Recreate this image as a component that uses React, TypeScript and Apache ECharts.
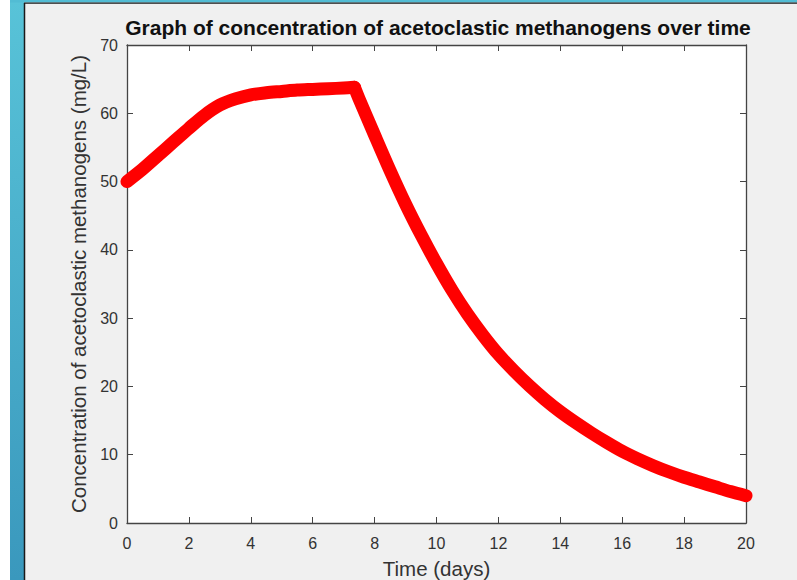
import React, { useEffect, useRef } from "react";
import * as echarts from "echarts";

const timeDays = [
  0, 0.5, 1, 1.5, 2, 2.5, 3, 3.5, 4, 4.5, 5, 5.5, 6, 6.5, 7, 7.35, 7.5, 8, 8.5, 9, 9.5,
  10, 10.5, 11, 11.5, 12, 12.5, 13, 13.5, 14, 14.5, 15, 15.5, 16, 16.5, 17, 17.5, 18,
  18.5, 19, 19.5, 20,
];
const concentration = [
  50.0, 51.8, 53.8, 55.8, 57.8, 59.7, 61.2, 62.1, 62.7, 63.0, 63.2, 63.4, 63.5, 63.6,
  63.7, 63.8, 62.1, 56.8, 51.6, 46.7, 42.2, 38.0, 34.1, 30.6, 27.5, 24.7, 22.3, 20.1,
  18.1, 16.3, 14.7, 13.2, 11.8, 10.5, 9.4, 8.4, 7.5, 6.7, 6.0, 5.3, 4.6, 4.0,
];
// time at which growth stops and decay begins (peak of the curve)
const peakTime = 7.35;

const titleText = "Graph of concentration of acetoclastic methanogens over time";
const xName = "Time (days)";
const yName = "Concentration of acetoclastic methanogens (mg/L)";

const FONT = "'Liberation Sans', Arial, Helvetica, sans-serif";
const AXIS_COLOR = "#444";
const TEXT_COLOR = "#333";

export default function App() {
  const ref = useRef<HTMLDivElement>(null);

  useEffect(() => {
    if (!ref.current) return;
    const chart = echarts.init(ref.current, undefined, { renderer: "svg" });
    const data = timeDays.map((t, i) => [t, concentration[i]]);
    const growth = data.filter((d) => d[0] <= peakTime);
    const decay = data.filter((d) => d[0] >= peakTime);

    const axisCommon = {
      axisLine: { show: true, onZero: false, lineStyle: { color: AXIS_COLOR, width: 1.3 } },
      axisTick: { show: true, inside: true, length: 6, lineStyle: { color: AXIS_COLOR, width: 1 } },
      splitLine: { show: false },
    };

    const lineSeries = (d: number[][]) => ({
      type: "line",
      xAxisIndex: 0,
      yAxisIndex: 0,
      data: d,
      showSymbol: false,
      symbol: "none",
      clip: false,
      smooth: 0.3,
      silent: true,
      lineStyle: { color: "#ff0000", width: 13, cap: "round", join: "round" },
      emphasis: { disabled: true },
    });

    chart.setOption({
      animation: false,
      backgroundColor: "#f0f0f0",
      textStyle: { fontFamily: FONT },
      grid: {
        left: 127,
        right: 51,
        top: 45,
        bottom: 57,
        containLabel: false,
        outerBoundsMode: "none",
        show: true,
        backgroundColor: "#ffffff",
        borderWidth: 0,
      },
      graphic: [
        { type: "rect", shape: { x: 0, y: 0, width: 10, height: 580 }, style: { fill: "#ffffff" }, silent: true },
        {
          type: "rect",
          shape: { x: 10, y: 0, width: 14, height: 580 },
          style: {
            fill: new echarts.graphic.LinearGradient(0, 0, 0, 1, [
              { offset: 0, color: "#58c3d8" },
              { offset: 1, color: "#3a98bd" },
            ]),
          },
          silent: true,
        },
        { type: "rect", shape: { x: 10, y: 0, width: 787, height: 2.5 }, style: { fill: "#52bcd4" }, silent: true },
        { type: "line", shape: { x1: 24.5, y1: 3, x2: 24.5, y2: 580 }, style: { stroke: "#1a1a1a", lineWidth: 1.5 }, silent: true },
        { type: "line", shape: { x1: 24, y1: 3.2, x2: 797, y2: 3.2 }, style: { stroke: "#1a1a1a", lineWidth: 1.3 }, silent: true },
        {
          type: "text",
          x: 438,
          y: 27,
          style: {
            text: titleText,
            fontFamily: FONT,
            fontSize: 21,
            fontWeight: "bold",
            fill: "#111",
            align: "center",
            verticalAlign: "middle",
          },
          silent: true,
        },
      ],
      xAxis: [
        {
          type: "value",
          position: "bottom",
          min: 0,
          max: 20,
          interval: 2,
          ...axisCommon,
          axisLabel: { show: true, fontSize: 16, color: TEXT_COLOR, margin: 12, fontFamily: FONT },
          name: xName,
          nameLocation: "middle",
          nameGap: 35,
          nameTextStyle: { fontSize: 20.5, color: TEXT_COLOR, fontFamily: FONT },
        },
        {
          type: "value",
          position: "top",
          min: 0,
          max: 20,
          interval: 2,
          ...axisCommon,
          axisLabel: { show: false },
        },
      ],
      yAxis: [
        {
          type: "value",
          position: "left",
          min: 0,
          max: 70,
          interval: 10,
          ...axisCommon,
          axisLabel: { show: true, fontSize: 16, color: TEXT_COLOR, margin: 9, fontFamily: FONT },
          name: yName,
          nameLocation: "middle",
          nameGap: 37,
          nameTextStyle: { fontSize: 20.5, color: TEXT_COLOR, fontFamily: FONT },
        },
        {
          type: "value",
          position: "right",
          min: 0,
          max: 70,
          interval: 10,
          ...axisCommon,
          axisLabel: { show: false },
        },
      ],
      series: [lineSeries(growth), lineSeries(decay)],
    });

    return () => chart.dispose();
  }, []);

  return (
    <div
      ref={ref}
      style={{ position: "fixed", left: 0, top: 0, width: 797, height: 580 }}
    />
  );
}
